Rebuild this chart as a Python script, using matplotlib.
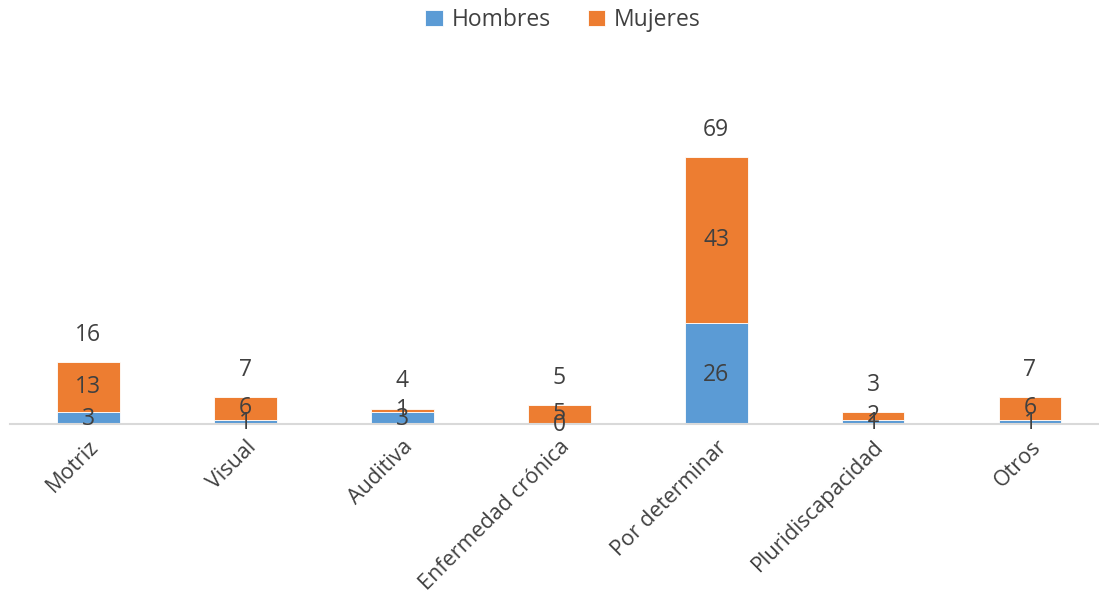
import numpy as np
import matplotlib.pyplot as plt

plt.rcParams['font.family'] = ['Open Sans', 'DejaVu Sans']

categorias = ['Motriz', 'Visual', 'Auditiva', 'Enfermedad crónica',
              'Por determinar', 'Pluridiscapacidad', 'Otros']
hombres = [3, 1, 3, 0, 26, 1, 1]
mujeres = [13, 6, 1, 5, 43, 2, 6]

azul = '#5B9BD5'
naranja = '#ED7D31'
gris_texto = '#404040'

fig = plt.figure(figsize=(10.99, 5.96), dpi=100)
ax = fig.add_axes([10 / 1099, 1 - 424 / 596, 1 - 10 / 1099, 310 / 596])

x = np.arange(len(categorias))
h = np.array(hombres)
m = np.array(mujeres)
total = h + m

b1 = ax.bar(x, h, width=0.4, color=azul, edgecolor='white', linewidth=0.6, label='Hombres')
b2 = ax.bar(x, m, width=0.4, bottom=h, color=naranja, edgecolor='white', linewidth=0.6, label='Mujeres')

for i in range(len(x)):
    ax.text(x[i], h[i] / 2 - 0.3, str(h[i]), ha='center', va='center', fontsize=16.5, color=gris_texto)
    ax.text(x[i], h[i] + m[i] / 2, str(m[i]), ha='center', va='center', fontsize=16.5, color=gris_texto)
    ax.text(x[i], total[i] + 7, str(total[i]), ha='center', va='center', fontsize=16.5, color=gris_texto)

ax.set_xlim(-0.5, 6.44)
ax.set_ylim(0, 80)
ax.set_yticks([])
ax.set_xticks(x)
ax.set_xticklabels(categorias, rotation=45, ha='right', rotation_mode='anchor',
                   fontsize=15.5, color=gris_texto)
ax.tick_params(axis='x', length=0, pad=9)
for s in ['top', 'right', 'left']:
    ax.spines[s].set_visible(False)
ax.spines['bottom'].set_color('#D9D9D9')
ax.spines['bottom'].set_linewidth(1.5)

fig.legend(handles=[b1, b2], loc='center', bbox_to_anchor=(563 / 1099, 1 - 20 / 596),
           ncol=2, frameon=False, fontsize=16.5, labelcolor=gris_texto,
           handlelength=0.75, handleheight=0.75, columnspacing=1.6, handletextpad=0.4)

fig.savefig('out.png', dpi=100)
